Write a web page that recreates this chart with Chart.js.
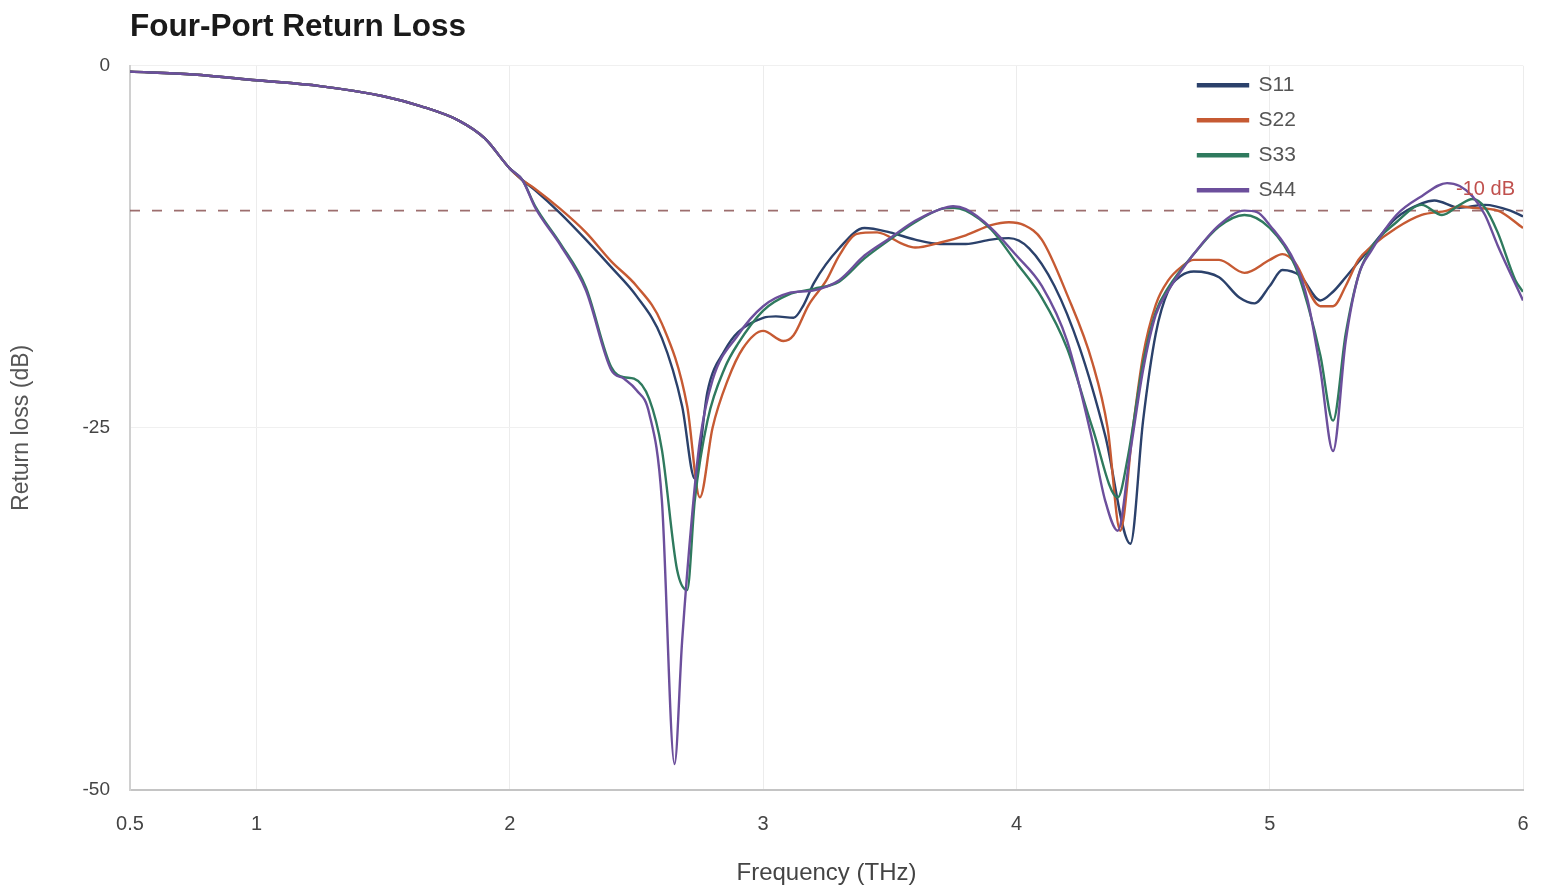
<!DOCTYPE html>
<html>
<head>
<meta charset="utf-8">
<script src="https://cdn.jsdelivr.net/npm/chart.js@4.4.1/dist/chart.umd.min.js"></script>
<style>
  html, body { margin: 0; padding: 0; background: #ffffff; }
  #wrap { width: 1542px; height: 893px; }
</style>
</head>
<body>
<div id="wrap"><canvas id="c" width="1542" height="893"></canvas></div>
<script>
// ---------- data ----------
const chartTitle = 'Four-Port Return Loss';
const xAxisTitle = 'Frequency (THz)';
const yAxisTitle = 'Return loss (dB)';
const seriesNames = ['S11', 'S22', 'S33', 'S44'];
const xTickValues = [0.5, 1, 2, 3, 4, 5, 6];
const yTickValues = [0, -25, -50];
const thresholdValue = -10;
const thresholdLabel = '-10 dB';

// shared low-frequency part
const commonFreq = [0.5, 0.75, 1.0, 1.25, 1.5, 1.65, 1.8, 1.9, 2.0, 2.05];
const commonLoss = [-0.4, -0.6, -1.0, -1.4, -2.1, -2.8, -3.8, -5.0, -7.1, -7.9];

const s11Freq = [2.1, 2.2, 2.3, 2.4, 2.5, 2.6, 2.68, 2.73, 2.78, 2.85, 2.9, 3.0, 3.05, 3.12, 3.16, 3.2, 3.3, 3.4, 3.5, 3.6, 3.7, 3.8, 3.9, 3.97, 4.05, 4.15, 4.25, 4.35, 4.45, 4.5, 4.55, 4.6, 4.65, 4.7, 4.8, 4.88, 4.94, 5.0, 5.05, 5.12, 5.2, 5.25, 5.3, 5.4, 5.5, 5.6, 5.65, 5.75, 5.85, 5.95, 6.0];
const s11Loss = [-8.6, -10.2, -12.0, -13.9, -15.9, -18.8, -23.5, -28.5, -22.5, -19.6, -18.4, -17.4, -17.3, -17.4, -16.5, -15.0, -12.6, -11.2, -11.5, -12.0, -12.3, -12.3, -12.0, -11.9, -12.6, -15.2, -19.5, -25.5, -33.0, -24.5, -18.5, -15.5, -14.5, -14.2, -14.6, -16.0, -16.4, -15.2, -14.1, -14.5, -16.2, -15.6, -14.6, -12.5, -10.5, -9.5, -9.3, -9.8, -9.6, -10.0, -10.4];

const s22Freq = [2.1, 2.2, 2.3, 2.4, 2.5, 2.6, 2.7, 2.75, 2.8, 2.86, 2.92, 3.0, 3.08, 3.12, 3.18, 3.25, 3.3, 3.37, 3.45, 3.55, 3.6, 3.7, 3.8, 3.9, 3.97, 4.03, 4.1, 4.2, 4.3, 4.36, 4.41, 4.46, 4.5, 4.55, 4.6, 4.65, 4.7, 4.8, 4.9, 5.0, 5.05, 5.1, 5.2, 5.25, 5.3, 5.35, 5.4, 5.5, 5.6, 5.7, 5.75, 5.8, 5.9, 6.0];
const s22Loss = [-8.5, -9.9, -11.5, -13.5, -15.2, -17.8, -23.5, -29.8, -25.0, -21.7, -19.5, -18.3, -19.0, -18.6, -16.5, -14.8, -13.1, -11.6, -11.5, -12.3, -12.55, -12.2, -11.7, -11.0, -10.8, -11.0, -12.0, -15.8, -20.5, -25.0, -32.1, -25.0, -20.0, -16.5, -14.8, -13.9, -13.4, -13.4, -14.3, -13.4, -13.0, -13.6, -16.6, -16.6, -15.2, -13.4, -12.5, -11.2, -10.3, -10.0, -9.7, -9.8, -10.0, -11.2];

const s33Freq = [2.1, 2.2, 2.3, 2.4, 2.45, 2.49, 2.55, 2.6, 2.66, 2.7, 2.73, 2.78, 2.85, 2.9, 3.0, 3.1, 3.2, 3.3, 3.4, 3.5, 3.6, 3.7, 3.75, 3.8, 3.9, 4.0, 4.1, 4.2, 4.3, 4.4, 4.44, 4.5, 4.55, 4.6, 4.7, 4.8, 4.9, 5.0, 5.1, 5.15, 5.2, 5.25, 5.3, 5.35, 5.4, 5.5, 5.6, 5.68, 5.75, 5.8, 5.85, 5.9, 5.97, 6.0];
const s33Loss = [-9.7, -12.3, -15.3, -20.8, -21.5, -21.6, -23.0, -26.5, -34.8, -36.2, -30.0, -24.5, -20.8, -19.2, -16.9, -15.8, -15.4, -14.9, -13.3, -12.0, -10.8, -9.9, -9.8, -10.0, -11.3, -13.6, -16.0, -19.5, -25.0, -29.8, -27.0, -20.5, -17.0, -15.3, -13.0, -11.1, -10.3, -11.2, -13.8, -16.5, -20.0, -24.5, -18.5, -14.5, -12.6, -10.8, -9.6, -10.3, -9.6, -9.2, -9.8, -11.5, -14.8, -15.6];

const s44Freq = [2.1, 2.2, 2.3, 2.4, 2.45, 2.5, 2.55, 2.6, 2.65, 2.68, 2.72, 2.75, 2.8, 2.9, 3.0, 3.1, 3.2, 3.3, 3.4, 3.5, 3.6, 3.7, 3.75, 3.8, 3.9, 4.0, 4.1, 4.2, 4.3, 4.35, 4.4, 4.45, 4.5, 4.55, 4.6, 4.7, 4.8, 4.9, 4.95, 5.0, 5.1, 5.15, 5.2, 5.25, 5.3, 5.35, 5.4, 5.5, 5.6, 5.7, 5.75, 5.8, 5.85, 5.9, 6.0];
const s44Loss = [-9.8, -12.4, -15.5, -21.0, -21.6, -22.4, -24.0, -30.0, -48.2, -39.7, -30.9, -25.9, -21.7, -18.6, -16.6, -15.7, -15.5, -14.8, -13.1, -11.9, -10.7, -9.9, -9.7, -9.9, -11.2, -13.1, -15.2, -19.0, -25.9, -30.0, -32.1, -26.6, -21.0, -17.2, -15.5, -13.0, -11.0, -10.0, -10.1, -11.0, -13.6, -16.2, -21.0, -26.6, -19.0, -14.5, -12.8, -10.3, -9.0, -8.1, -8.3, -9.0, -10.3, -12.4, -16.2];

// ---------- styles ----------
const seriesColors = ['#2b416b', '#c65a33', '#2f7a5e', '#6c4f9c'];
const FONT = '"Liberation Sans", Arial, Helvetica, sans-serif';

function toPoints(freqs, losses) {
  const f = commonFreq.concat(freqs);
  const l = commonLoss.concat(losses);
  return f.map((v, i) => ({ x: v, y: l[i] }));
}
const seriesData = [
  toPoints(s11Freq, s11Loss),
  toPoints(s22Freq, s22Loss),
  toPoints(s33Freq, s33Loss),
  toPoints(s44Freq, s44Loss)
];

const datasets = seriesNames.map((name, i) => ({
  label: name,
  data: seriesData[i],
  borderColor: seriesColors[i],
  backgroundColor: seriesColors[i],
  borderWidth: 2.4,
  pointRadius: 0,
  cubicInterpolationMode: 'monotone',
  fill: false
}));
// S44 drawn on top like in the reference
datasets.reverse();
datasets.push({
  label: 'threshold',
  data: [{ x: xTickValues[0], y: thresholdValue }, { x: xTickValues[xTickValues.length - 1], y: thresholdValue }],
  borderColor: 'rgba(140, 85, 85, 0.85)',
  borderWidth: 1.8,
  borderDash: [10, 12],
  pointRadius: 0,
  fill: false
});

const whiteBg = {
  id: 'whiteBg',
  beforeDraw(chart) {
    const { ctx } = chart;
    ctx.save();
    ctx.fillStyle = '#ffffff';
    ctx.fillRect(0, 0, chart.width, chart.height);
    ctx.restore();
  }
};

const placeBoxes = {
  id: 'placeBoxes',
  afterLayout(chart) {
    const ca = chart.chartArea;
    if (chart.titleBlock) {
      const w = chart.titleBlock.width;
      chart.titleBlock.left = ca.left;
      chart.titleBlock.right = ca.left + w;
    }
    const lg = chart.legend;
    if (lg) {
      const h = lg.height;
      lg.left = ca.right - 339;
      lg.right = ca.right;
      lg.top = ca.top - 5;
      lg.bottom = lg.top + h;
    }
  }
};

const thresholdText = {
  id: 'thresholdText',
  afterDatasetsDraw(chart) {
    const { ctx } = chart;
    const xs = chart.scales.x, ys = chart.scales.y;
    ctx.save();
    ctx.font = '20px ' + FONT;
    ctx.fillStyle = '#c0504d';
    ctx.textAlign = 'right';
    ctx.textBaseline = 'middle';
    ctx.fillText(thresholdLabel, xs.getPixelForValue(xs.max) - 8, ys.getPixelForValue(thresholdValue) - 21);
    ctx.restore();
  }
};

new Chart(document.getElementById('c'), {
  type: 'line',
  data: { datasets },
  plugins: [whiteBg, placeBoxes, thresholdText],
  options: {
    responsive: false,
    animation: false,
    layout: { padding: { left: 0, right: 19, top: 0, bottom: 0 } },
    plugins: {
      title: {
        display: true,
        text: chartTitle,
        align: 'start',
        color: '#1a1a1a',
        font: { family: FONT, size: 31.5, weight: 'bold' },
        padding: { top: 8, bottom: 20 }
      },
      legend: {
        position: 'chartArea',
        align: 'start',
        labels: {
          filter: (item) => item.text !== 'threshold',
          sort: (a, b) => seriesNames.indexOf(a.text) - seriesNames.indexOf(b.text),
          boxWidth: 50,
          boxHeight: 2,
          padding: 14,
          color: '#555555',
          font: { family: FONT, size: 21 }
        }
      },
      tooltip: { enabled: false }
    },
    scales: {
      x: {
        type: 'linear',
        min: xTickValues[0],
        max: xTickValues[xTickValues.length - 1],
        afterBuildTicks: (scale) => { scale.ticks = xTickValues.map(v => ({ value: v })); },
        afterFit: (scale) => { scale.height = 103; scale.paddingLeft = 0; scale.paddingRight = 0; },
        ticks: {
          color: '#444444',
          font: { family: FONT, size: 20 },
          padding: 22,
          maxRotation: 0,
          autoSkip: false,
          callback: (v) => String(v)
        },
        grid: { color: '#ececec', lineWidth: 1, drawTicks: false },
        border: { color: '#c4c4c4', width: 2 },
        title: {
          display: true,
          text: xAxisTitle,
          color: '#444444',
          font: { family: FONT, size: 24 },
          padding: { top: 0, bottom: 5 }
        }
      },
      y: {
        type: 'linear',
        min: yTickValues[yTickValues.length - 1],
        max: yTickValues[0],
        afterBuildTicks: (scale) => { scale.ticks = yTickValues.map(v => ({ value: v })); },
        afterFit: (scale) => { scale.width = 130; },
        ticks: {
          color: '#444444',
          font: { family: FONT, size: 19 },
          padding: 20,
          callback: (v) => String(v)
        },
        grid: { color: '#f0f0f0', lineWidth: 1, drawTicks: false },
        border: { color: '#d0d0d0', width: 2 },
        title: {
          display: true,
          text: yAxisTitle,
          color: '#555555',
          font: { family: FONT, size: 23 },
          padding: { top: 8, bottom: 0 }
        }
      }
    }
  }
});
</script>
</body>
</html>
